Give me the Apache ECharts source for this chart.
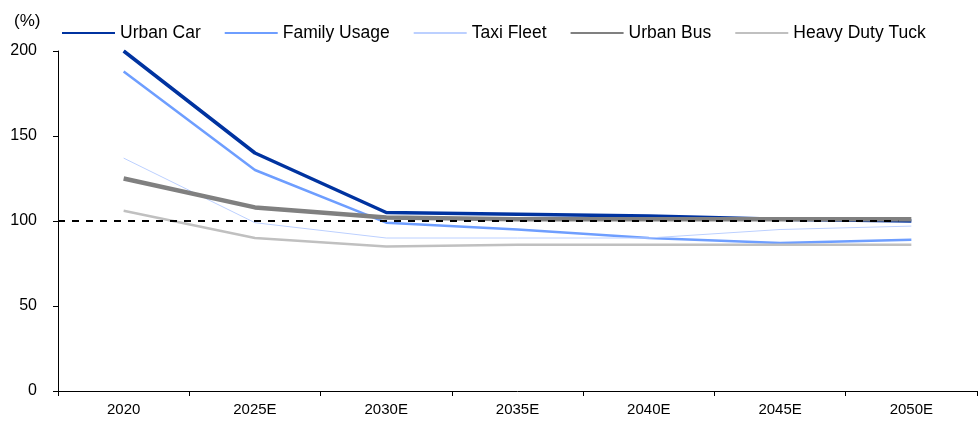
<!DOCTYPE html>
<html>
<head>
<meta charset="utf-8">
<script src="https://cdn.jsdelivr.net/npm/echarts@6/dist/echarts.min.js"></script>
<style>
  html, body { margin: 0; padding: 0; background: #fff; }
  #chart { width: 980px; height: 422px; }
</style>
</head>
<body>
<div id="chart"></div>
<script>
var years = ['2020', '2025E', '2030E', '2035E', '2040E', '2045E', '2050E'];
var urbanCar = [200, 140, 105, 104, 103, 101, 100];
var familyUsage = [188, 130, 99, 95, 90, 87, 89];
var taxiFleet = [137, 99, 90, 90, 90, 95, 97];
var urbanBus = [125, 108, 102, 101, 101, 101, 101];
var heavyDuty = [106, 90, 85, 86, 86, 86, 86];
// dashed 100% reference, on a hidden value x axis spanning the categories
var refX = [0, 6.4];
var refY = [100, 100];

var chart = echarts.init(document.getElementById('chart'), null, { renderer: 'canvas' });

var axisFont = "'Liberation Sans', Arial, sans-serif";

function lineSeries(name, data, color, width) {
  return {
    name: name,
    type: 'line',
    data: data,
    symbol: 'none',
    lineStyle: { color: color, width: width },
    itemStyle: { color: color }
  };
}

var option = {
  animation: false,
  title: {
    text: '(%)',
    left: 9,
    top: 8,
    textStyle: { fontFamily: axisFont, fontSize: 17, fontWeight: 'normal', color: '#000' }
  },
  legend: {
    left: 56,
    top: 19,
    itemWidth: 53,
    itemHeight: 14,
    itemGap: 23,
    itemStyle: { opacity: 0 },
    data: ['Urban Car', 'Family Usage', 'Taxi Fleet', 'Urban Bus', 'Heavy Duty Tuck'],
    textStyle: { fontFamily: axisFont, fontSize: 17.5, color: '#000' }
  },
  grid: { left: 58, right: 3, top: 51, bottom: 31, containLabel: false },
  xAxis: [
    {
      type: 'category',
      data: years,
      boundaryGap: true,
      axisLine: { lineStyle: { color: '#000', width: 1 } },
      axisTick: { show: true, length: 5, lineStyle: { color: '#000' } },
      axisLabel: { color: '#000', fontFamily: axisFont, fontSize: 15, margin: 11 },
      splitLine: { show: false }
    },
    {
      type: 'value',
      min: 0,
      max: 7,
      show: false
    }
  ],
  yAxis: {
    type: 'value',
    min: 0,
    max: 200,
    interval: 50,
    axisLine: { show: true, lineStyle: { color: '#000', width: 1 } },
    axisTick: { show: true, length: 5, lineStyle: { color: '#000' } },
    axisLabel: { color: '#000', fontFamily: axisFont, fontSize: 16, margin: 21 },
    splitLine: { show: false }
  },
  series: [
    lineSeries('Urban Car', urbanCar, '#0033a0', 3.5),
    lineSeries('Family Usage', familyUsage, '#6e9eff', 2.5),
    lineSeries('Taxi Fleet', taxiFleet, '#bcd0ff', 1),
    lineSeries('Urban Bus', urbanBus, '#808080', 4.5),
    lineSeries('Heavy Duty Tuck', heavyDuty, '#c0c0c0', 2.5),
    {
      name: 'ref',
      type: 'line',
      xAxisIndex: 1,
      data: refX.map(function (x, i) { return [x, refY[i]]; }),
      symbol: 'none',
      z: 5,
      lineStyle: { color: '#000', width: 2, type: [7, 7] }
    }
  ]
};

chart.setOption(option);
window.addEventListener('resize', chart.resize);
</script>
</body>
</html>
